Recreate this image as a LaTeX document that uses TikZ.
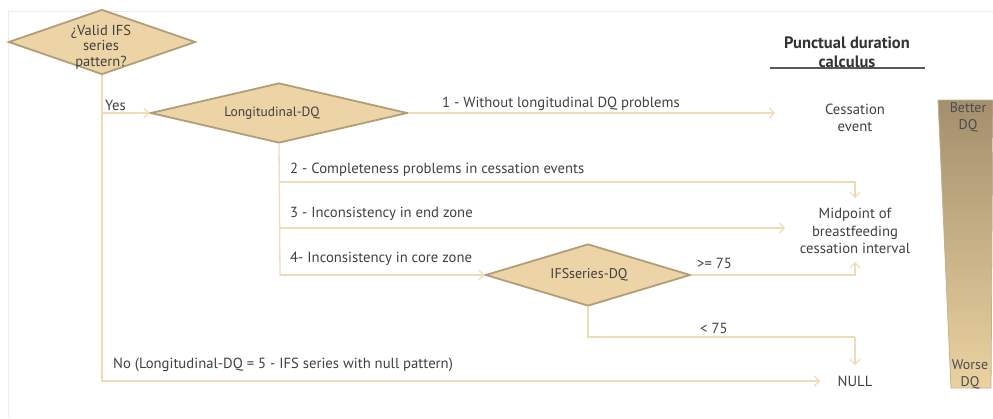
\documentclass[tikz,border=0pt]{standalone}
\usepackage{fontspec}
\setmainfont{PT Sans}
\usetikzlibrary{shapes.geometric,arrows.meta}
\definecolor{dfill}{HTML}{ECD4A6}
\definecolor{ddraw}{HTML}{B29D74}
\definecolor{conncol}{HTML}{EFDCB6}
\definecolor{txtcol}{HTML}{404040}
\definecolor{bartop}{HTML}{A38F6D}
\definecolor{barbot}{HTML}{EBD2A0}
\tikzset{
  dia/.style={diamond, draw=ddraw, fill=dfill, line width=1.8pt, inner sep=0pt},
  lbl/.style={font=\fontsize{14.7}{17}\selectfont, text=txtcol, inner sep=0pt, anchor=west},
  ctr/.style={font=\fontsize{14.7}{17.5}\selectfont, text=txtcol, inner sep=0pt, align=center},
  conn/.style={draw=conncol, line width=1.3pt},
  arr/.style={conn, -{Straight Barb[length=5pt,width=10pt,line width=1.2pt]}},
}
\begin{document}
\begin{tikzpicture}[x=1pt,y=-1pt]
\useasboundingbox (0,0) rectangle (993,418);
% faint frame
\draw[black!7, line width=0.8pt] (8,418) -- (8,11) -- (993,11);
% title
\node[font=\bfseries\fontsize{16.5}{19}\selectfont, text=black!80, align=center, inner sep=0pt] (title) at (847,52) {Punctual duration\\calculus};
\draw[black!65, line width=1.6pt] (770,68) -- (925,68);
% right bar
\shade[top color=bartop, bottom color=barbot, draw=ddraw!80, line width=0.8pt]
  (938,100) -- (993,100) -- (991,388) -- (951,388) -- cycle;
\node[ctr, text=black!70, font=\fontsize{14}{17}\selectfont] (better) at (968,117) {Better\\DQ};
\node[ctr, text=black!70, font=\fontsize{14}{17}\selectfont] (worse) at (970,374) {Worse\\DQ};
% diamonds
\node[dia, minimum width=187pt, minimum height=65pt] (vifs) at (102,42) {};
\node[ctr, font=\fontsize{14.5}{15.5}\selectfont] (vifst) at (101,47) {¿Valid IFS\\series\\pattern?};
\node[dia, minimum width=257pt, minimum height=60pt] (ldq) at (279,113) {};
\node[ctr, font=\fontsize{13.5}{16}\selectfont] (ldqt) at (272,113) {Longitudinal-DQ};
\node[dia, minimum width=205pt, minimum height=62pt] (ifs) at (588,275) {};
\node[ctr, font=\fontsize{14}{16}\selectfont] (ifst) at (589,275) {IFSseries-DQ};
% outcome texts
\node[ctr] (cess) at (855,118) {Cessation\\event};
\node[ctr] (mid) at (855,231) {Midpoint of\\breastfeeding\\cessation interval};
\node[ctr] (null) at (855,381) {NULL};
% coordinates
\coordinate (a1) at (775,113);
\coordinate (b2) at (280,182);
\coordinate (e2) at (855,198);
\coordinate (b3) at (280,228);
\coordinate (e3) at (785,228);
\coordinate (b4) at (280,275);
\coordinate (e5) at (855,262);
\coordinate (e6) at (855,365);
\coordinate (k6) at (855,337);
\coordinate (eno) at (820,381);
% connectors
\draw[arr] (vifs.south) |- (eno);
\draw[arr] (vifs.south |- ldq.west) -- (ldq.west);
\draw[arr] (ldq.east) -- (a1);
\draw[conn] (ldq.south) -- (b4);
\draw[arr] (b2) -| (e2);
\draw[arr] (b3) -- (e3);
\draw[arr] (b4) -- (ifs.west);
\draw[arr] (ifs.east) -| (e5);
\draw[conn] (ifs.south) |- (k6);
\draw[arr] (k6) -- (e6);
% labels
\node[lbl] (yes) at (105,105) {Yes};
\node[lbl] (l1) at (442,104) {1 - Without longitudinal DQ problems};
\node[lbl] (l2) at (290,170) {2 - Completeness problems in cessation events};
\node[lbl] (l3) at (290,214) {3 - Inconsistency in end zone};
\node[lbl] (l4) at (290,259) {4- Inconsistency in core zone};
\node[lbl] (l5) at (697,263) {>= 75};
\node[lbl] (l6) at (700,328) {< 75};
\node[lbl] (lno) at (113,365) {No (Longitudinal-DQ = 5 - IFS series with null pattern)};
\end{tikzpicture}
\end{document}
